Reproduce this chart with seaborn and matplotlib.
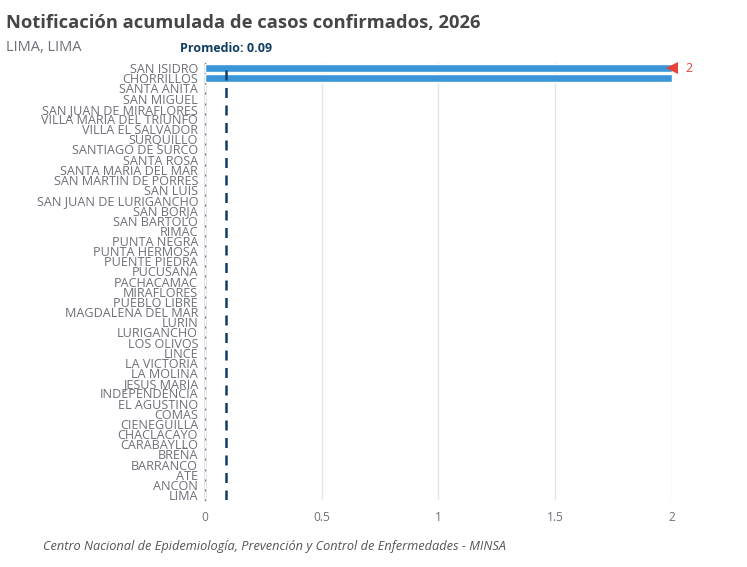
import numpy as np
import pandas as pd
import matplotlib
matplotlib.use("Agg")
import matplotlib.pyplot as plt
import seaborn as sns

# distritos y casos acumulados
distritos = ['SAN ISIDRO', 'CHORRILLOS', 'SANTA ANITA', 'SAN MIGUEL', 'SAN JUAN DE MIRAFLORES',
             'VILLA MARIA DEL TRIUNFO', 'VILLA EL SALVADOR', 'SURQUILLO', 'SANTIAGO DE SURCO',
             'SANTA ROSA', 'SANTA MARIA DEL MAR', 'SAN MARTIN DE PORRES', 'SAN LUIS',
             'SAN JUAN DE LURIGANCHO', 'SAN BORJA', 'SAN BARTOLO', 'RIMAC', 'PUNTA NEGRA',
             'PUNTA HERMOSA', 'PUENTE PIEDRA', 'PUCUSANA', 'PACHACAMAC', 'MIRAFLORES',
             'PUEBLO LIBRE', 'MAGDALENA DEL MAR', 'LURIN', 'LURIGANCHO', 'LOS OLIVOS', 'LINCE',
             'LA VICTORIA', 'LA MOLINA', 'JESUS MARIA', 'INDEPENDENCIA', 'EL AGUSTINO', 'COMAS',
             'CIENEGUILLA', 'CHACLACAYO', 'CARABAYLLO', 'BREÑA', 'BARRANCO', 'ATE', 'ANCON', 'LIMA']
casos = [2, 2] + [0] * 41
promedio = 0.09
xticks = [0, 0.5, 1, 1.5, 2]
xtick_labels = ['0', '0.5', '1', '1.5', '2']

df = pd.DataFrame({'distrito': distritos, 'casos': casos})

sns.set_style('white')
plt.rcParams['font.family'] = ['Open Sans', 'DejaVu Sans']

fig = plt.figure(figsize=(7.47, 5.67), dpi=100)
ax = fig.add_axes([0.2744, 0.118, 0.6252, 0.771])

sns.barplot(data=df, y='distrito', x='casos', color='#3a96d8', width=0.8,
            saturation=1, ax=ax, zorder=3)

ax.set_xlim(0, 2)
ax.set_ylim(len(distritos) - 0.5, -0.5)
ax.set_xticks(xticks)
ax.set_xticklabels(xtick_labels)
ax.grid(axis='x', color='#e0e6f1', linewidth=1, zorder=0)
ax.grid(axis='y', visible=False)
ax.set_xlabel('')
ax.set_ylabel('')

for s in ['top', 'right', 'bottom']:
    ax.spines[s].set_visible(False)
ax.spines['left'].set_color('#6e7079')
ax.spines['left'].set_linewidth(1)

ax.tick_params(axis='y', length=4, width=1, color='#6e7079', labelcolor='#6e7079',
               labelsize=9.1, pad=1)
ax.tick_params(axis='x', length=0, labelcolor='#6e7079', labelsize=8.6, pad=8)

# linea de promedio
ax.axvline(promedio, color='#0f3d64', linestyle=(0, (4, 3)), linewidth=1.8, zorder=4)
ax.annotate(f'Promedio: {promedio:.2f}', xy=(promedio, -0.5), xytext=(0, 6),
            textcoords='offset points', ha='center', va='bottom',
            fontsize=9, fontweight='bold', color='#0f3d64', annotation_clip=False)

# marcador del maximo
ax.plot([casos[0]], [0], marker='<', markersize=8, color='#e8423a', zorder=5,
        clip_on=False, markeredgewidth=0)
ax.annotate(str(casos[0]), xy=(casos[0], 0), xytext=(10, 0), textcoords='offset points',
            ha='left', va='center', fontsize=9, color='#e8423a', annotation_clip=False)

fig.text(0.008, 0.975, 'Notificación acumulada de casos confirmados, 2026', ha='left', va='top',
         fontsize=13.2, fontweight='bold', color='#464646')
fig.text(0.008, 0.93, 'LIMA, LIMA', ha='left', va='top', fontsize=10.5, color='#6e7079')
fig.text(0.057, 0.025, 'Centro Nacional de Epidemiología, Prevención y Control de Enfermedades - MINSA',
         ha='left', va='bottom', fontsize=9.2, style='italic', color='#555555')

fig.savefig('out.png', dpi=100)
